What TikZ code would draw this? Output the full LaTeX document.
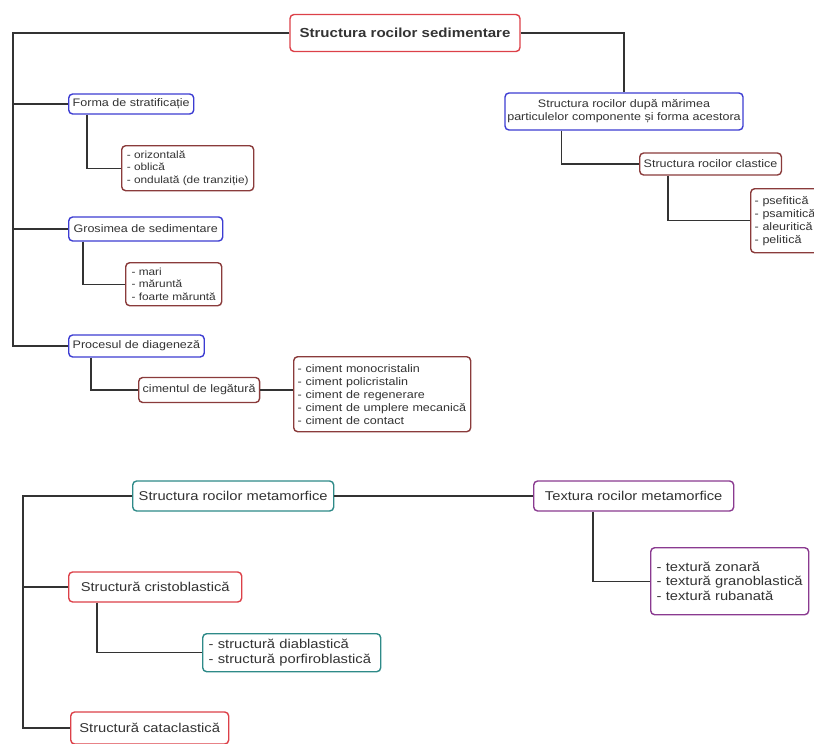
\documentclass[tikz,border=0pt]{standalone}
\usepackage{fontspec}
\setmainfont{Liberation Sans}[FakeStretch=1.15]
\usetikzlibrary{positioning}

\definecolor{rootred}{HTML}{DC4048}
\definecolor{boxblue}{HTML}{3C3CD2}
\definecolor{leafbrown}{HTML}{8A3B3B}
\definecolor{boxteal}{HTML}{2E8A88}
\definecolor{boxpurple}{HTML}{8A3A90}
\definecolor{linkgrey}{HTML}{333333}

\tikzset{
  box/.style={draw, rounded corners=4pt, line width=1.4pt, fill=white,
    text=black!80, inner xsep=4pt, inner ysep=3pt},
  small/.style={font=\fontsize{10.9}{13}\selectfont},
  smalllist/.style={font=\fontsize{10.3}{12.5}\selectfont},
  large/.style={font=\fontsize{12.8}{14.5}\selectfont},
  listbox/.style={align=left, anchor=north west},
  link/.style={draw=linkgrey, line width=1.4pt}
}

\begin{document}
\begin{tikzpicture}[x=1pt, y=-1pt]
\useasboundingbox (0,0) rectangle (814,744);

% rocile sedimentare
\node[box, draw=rootred, font=\fontsize{13.1}{15}\bfseries, minimum width=230pt, minimum height=37pt] (root) at (405,33) {Structura rocilor sedimentare};
\coordinate (trunk) at (13,33);

\node[box, small, draw=boxblue, anchor=west, minimum width=125pt, minimum height=20pt] (forma) at (68,104) {Forma de stratificație};
\node[box, smalllist, listbox, draw=leafbrown, minimum width=132pt, minimum height=45pt, inner xsep=2pt] (orizont) at (121,145)
  {- orizontală\\- oblică\\- ondulată (de tranziție)};

\node[box, small, draw=boxblue, anchor=west, minimum width=154pt, minimum height=24pt] (grosime) at (68,229) {Grosimea de sedimentare};
\node[box, smalllist, listbox, draw=leafbrown, minimum width=96pt, minimum height=43pt, inner xsep=2pt] (marime) at (125,262)
  {- mari\\- măruntă\\- foarte măruntă};

\node[box, small, draw=boxblue, anchor=west, minimum width=128pt, minimum height=22pt] (proces) at (68,346) {Procesul de diageneză};
\node[box, small, draw=leafbrown, anchor=west, minimum width=117pt, minimum height=25pt] (ciment) at (138,390) {cimentul de legătură};
\node[box, small, listbox, draw=leafbrown, text width=169pt, minimum height=75pt] (cimlist) at (293,356)
  {- ciment monocristalin\\- ciment policristalin\\- ciment de regenerare\\- ciment de umplere mecanică\\- ciment de contact};

\node[box, small, draw=boxblue, align=center, minimum width=238pt, minimum height=37pt, inner xsep=1pt] (dupa) at (624,111.5)
  {Structura rocilor după mărimea\\particulelor componente și forma acestora};
\node[box, small, draw=leafbrown, anchor=west, minimum width=141pt, minimum height=22pt] (clastic) at (639,164) {Structura rocilor clastice};
\node[box, small, listbox, draw=leafbrown, text width=66pt, minimum height=64pt] (clastlist) at (750,188)
  {- psefitică\\- psamitică\\- aleuritică\\- pelitică};

\draw[link] (root.west) -- (trunk) |- (proces.west);
\draw[link] (trunk |- forma) -- (forma.west);
\draw[link] (trunk |- grosime) -- (grosime.west);
\draw[link] (forma.south west) ++(19,0) |- (orizont.west);
\draw[link] (grosime.south west) ++(15,0) |- (marime.west);
\draw[link] (proces.south west) ++(23,0) |- (ciment.west);
\draw[link] (ciment.east) -- (ciment.east -| cimlist.west);
\draw[link] (root.east) -| (dupa.north);
\draw[link] (dupa.south west) ++(57,0) |- (clastic.west);
\draw[link] (clastic.south west) ++(29,0) |- (clastlist.west);

% rocile metamorfice
\node[box, large, draw=boxteal, anchor=west, minimum width=201pt, minimum height=30pt] (meta) at (132,496) {Structura rocilor metamorfice};
\node[box, large, draw=boxpurple, anchor=west, minimum width=200pt, minimum height=30pt] (textura) at (533,496) {Textura rocilor metamorfice};
\node[box, large, listbox, draw=boxpurple, text width=146pt, minimum height=67pt, inner xsep=6pt] (texlist) at (650,547)
  {- textură zonară\\- textură granoblastică\\- textură rubanată};
\coordinate (mtrunk) at (23,496);

\node[box, large, draw=rootred, anchor=west, minimum width=173pt, minimum height=30pt] (cristo) at (68,587) {Structură cristoblastică};
\node[box, large, listbox, draw=boxteal, text width=166pt, minimum height=38pt, inner xsep=6pt] (diab) at (202,633)
  {- structură diablastică\\- structură porfiroblastică};
\node[box, large, draw=rootred, anchor=west, minimum width=158pt, minimum height=32pt] (catacl) at (70,728) {Structură cataclastică};

\draw[link] (meta.west) -- (mtrunk) |- (catacl.west);
\draw[link] (mtrunk |- cristo) -- (cristo.west);
\draw[link] (meta) -- (textura);
\draw[link] (textura.south west) ++(60,0) |- (texlist.west);
\draw[link] (cristo.south west) ++(29,0) |- (diab.west);
\end{tikzpicture}
\end{document}
